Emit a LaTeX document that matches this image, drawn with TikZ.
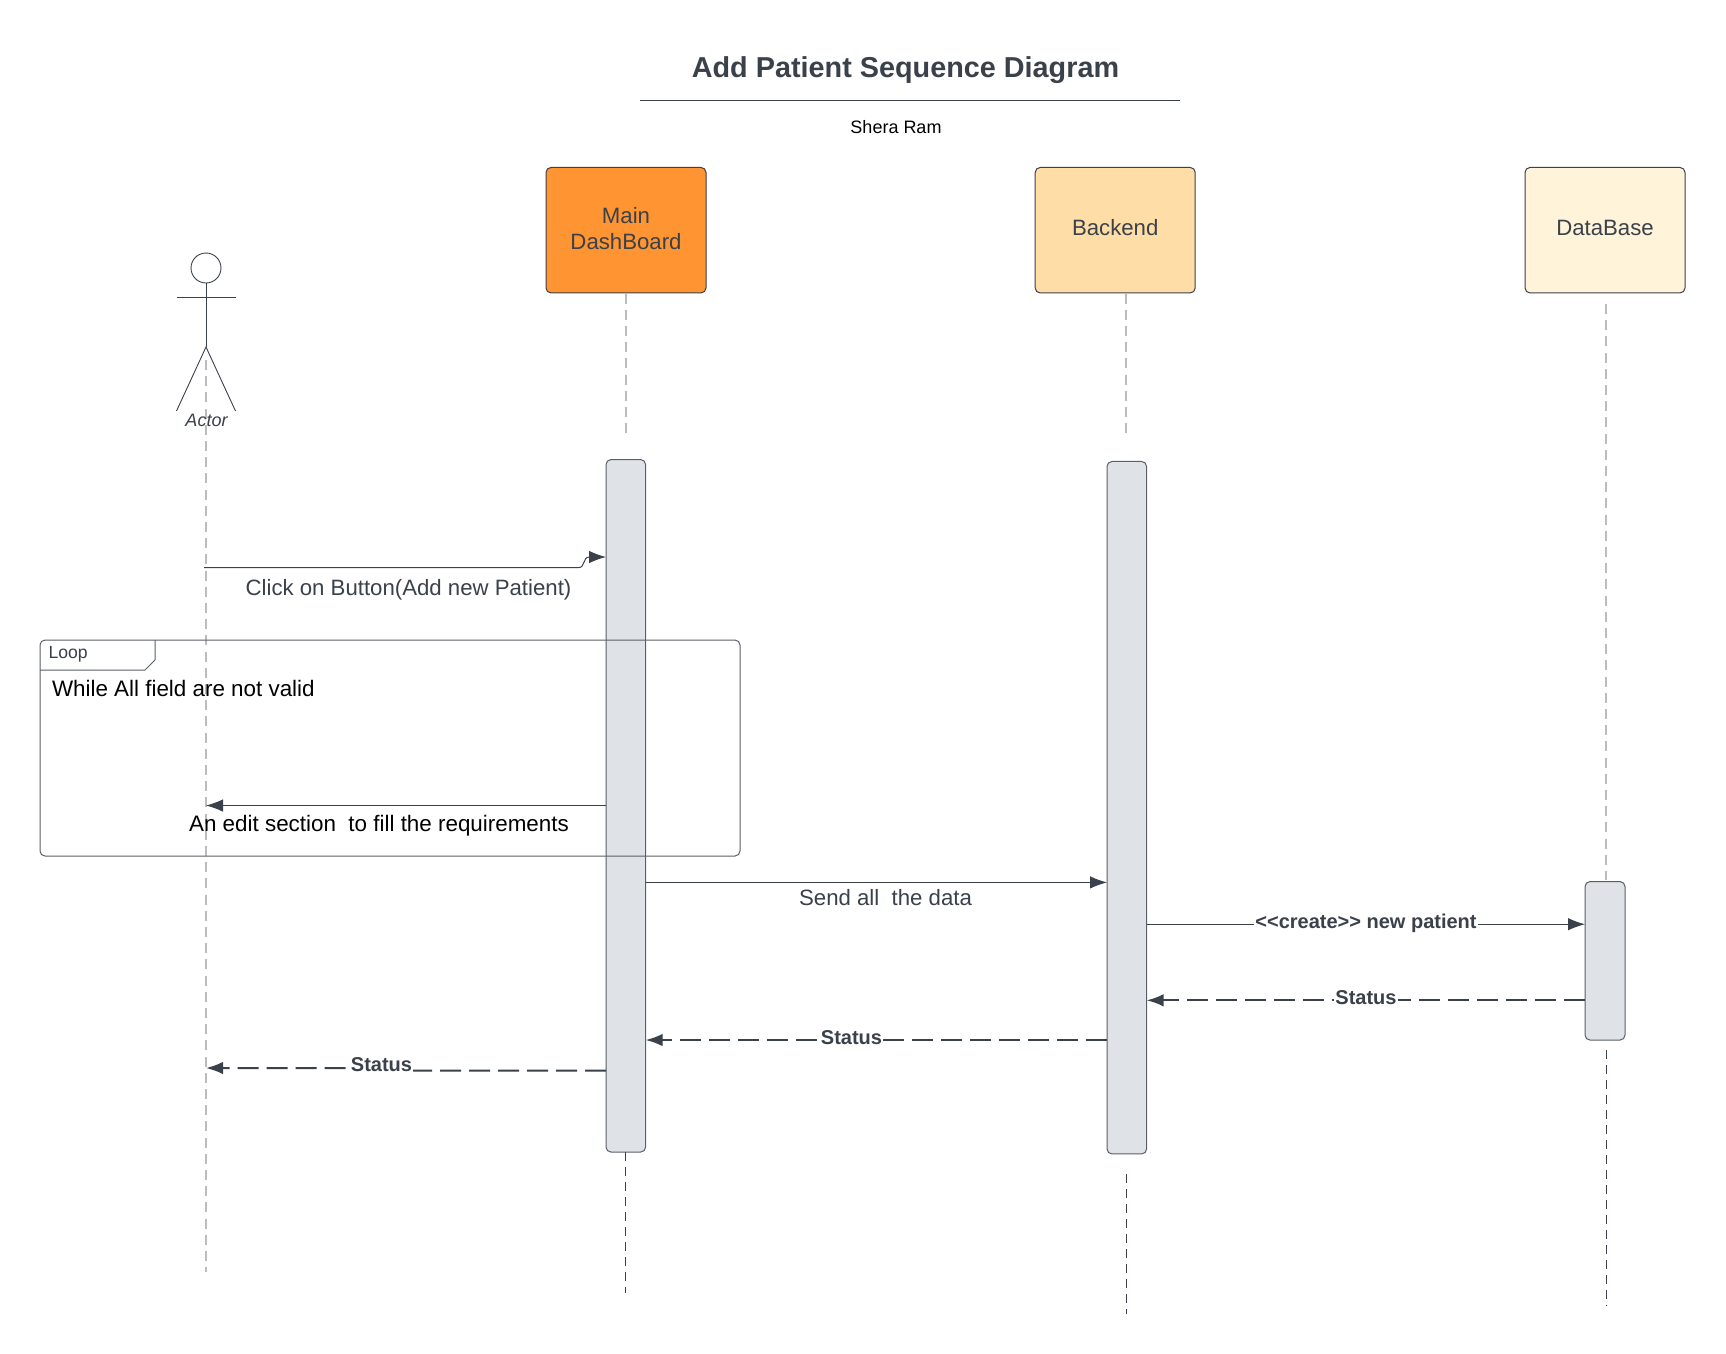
\documentclass[tikz,border=0pt]{standalone}
\usepackage{fontspec}
\setmainfont{Liberation Sans}
\usetikzlibrary{arrows.meta,calc}
\definecolor{ink}{HTML}{3A414A}
\definecolor{edge}{HTML}{5A6068}
\definecolor{lifegrey}{HTML}{BABCC0}
\definecolor{actfill}{HTML}{DFE3E8}
\definecolor{orangebox}{HTML}{FF9432}
\definecolor{peachbox}{HTML}{FFDDA6}
\definecolor{creambox}{HTML}{FFF3D9}
\tikzset{
  x=1pt,y=-1pt,
  base/.style={inner sep=0pt,outer sep=0pt},
  headbox/.style={base,draw=ink,line width=1pt,rounded corners=5pt,minimum width=160pt,minimum height=125.5pt},
  actbox/.style={base,draw=edge,line width=1pt,rounded corners=5pt,fill=actfill,minimum width=39.6pt},
  lifeup/.style={draw=lifegrey,line width=1.2pt,dash pattern=on 10pt off 6.2pt},
  lifedown/.style={draw=ink,line width=0.7pt,dash pattern=on 9pt off 6pt},
  msg/.style={draw=ink,line width=1pt,-{Latex[length=17pt,width=12.5pt]}},
  ret/.style={draw=ink,line width=2pt,dash pattern=on 21pt off 8pt,-{Latex[length=17pt,width=12.5pt]}},
  stick/.style={draw=ink,line width=0.9pt},
  txt/.style={base,text=ink,font=\fontsize{22.2}{26}\selectfont},
  blk/.style={base,text=black,font=\fontsize{22.4}{26}\selectfont},
  boldlab/.style={base,text=ink,fill=white,font=\fontsize{20}{24}\selectfont\bfseries,inner xsep=1pt},
}
\begin{document}
\begin{tikzpicture}
\path[use as bounding box,fill=white] (0,0) rectangle (1726,1353);
% title
\node[base,text=ink,font=\fontsize{28.8}{34}\selectfont\bfseries] (title) at (905.5,70.5) {Add Patient Sequence Diagram};
\coordinate (ruleL) at (640,100.5);
\coordinate (ruleR) at (1180,100.5);
\draw[stick] (ruleL) -- (ruleR);
\node[base,text=black,font=\fontsize{18}{22}\selectfont] (author) at (896,127.5) {Shera Ram};
% heads
\node[headbox,fill=orangebox] (main) at (626,230.2) {};
\node[txt,align=center] (mainlab) at (626,229) {Main\\DashBoard};
\node[headbox,fill=peachbox] (back) at (1115.2,230.2) {};
\node[txt] (backlab) at (1115.2,228) {Backend};
\node[headbox,fill=creambox] (db) at (1605,230.2) {};
\node[txt] (dblab) at (1605,228) {DataBase};
% activations
\node[actbox,minimum height=692.5pt] (mact) at (625.8,805.8) {};
\node[actbox,minimum height=692.5pt] (bact) at (1126.8,807.7) {};
\node[actbox,minimum height=158.5pt,minimum width=40pt] (dact) at (1605,960.8) {};
% lifeline ends
\coordinate (aTop) at (206,360);
\coordinate (aEnd) at (206,1272);
\coordinate (mUpS) at (626,293.5);
\coordinate (mUp) at (626,435);
\coordinate (bUpS) at (1126,293.5);
\coordinate (bUp) at (1126,434);
\coordinate (dUpS) at (1606,304);
\coordinate (dUp) at (1606,880);
\coordinate (mDn) at (625.5,1293);
\coordinate (bDnS) at (1126.6,1174);
\coordinate (bDn) at (1126.6,1314);
\coordinate (dDnS) at (1606.5,1050);
\coordinate (dDn) at (1606.5,1306);
\draw[lifeup] (aTop) -- (aEnd);
\draw[lifeup] (mUpS) -- (mUp);
\draw[lifeup] (bUpS) -- (bUp);
\draw[lifeup] (dUpS) -- (dUp);
\draw[lifedown] (mact.south -| mDn) -- (mDn);
\draw[lifedown] (bDnS) -- (bDn);
\draw[lifedown] (dDnS) -- (dDn);
% actor
\node[base,draw=ink,line width=0.9pt,circle,minimum size=30pt] (head) at (206,268) {};
\coordinate (armL) at (176.5,297.4);
\coordinate (armR) at (235.5,297.4);
\coordinate (hip) at (206,347);
\coordinate (legL) at (176.5,411);
\coordinate (legR) at (235.5,411);
\draw[stick] (head.south) -- (hip);
\draw[stick] (armL) -- (armR);
\draw[stick] (legL) -- (hip) -- (legR);
\node[base,text=ink,font=\fontsize{18}{22}\selectfont\itshape] (actor) at (206.5,420.5) {Actor};
% loop frame
\node[base,draw=edge,line width=1pt,rounded corners=5pt,minimum width=700pt,minimum height=216pt] (loop) at (390,748) {};
\coordinate (tabA) at (40,670);
\coordinate (tabB) at (145,670);
\coordinate (tabC) at (155,660);
\coordinate (tabD) at (155,640);
\draw[draw=edge,line width=1pt] (tabA) -- (tabB) -- (tabC) -- (tabD);
\node[base,text=ink,font=\fontsize{17.6}{21}\selectfont,anchor=west] (looplab) at (48.5,654) {Loop};
\node[blk,anchor=west] (cond) at (52,688) {While All field are not valid};
% messages
\coordinate (a1) at (204,567.7);
\coordinate (m1) at (606,557);
\draw[msg] (a1) -- (578,567.7) .. controls (586,567.7) and (582,557) .. (mact.west |- m1);
\node[txt] (l1) at (408.5,589.5) {Click on Button(Add new Patient)};
\coordinate (y2) at (0,805.5);
\draw[msg] (mact.west |- y2) -- (head.south |- y2);
\node[blk] (l2) at (379,825.5) {An edit section\ \ to fill the requirements};
\coordinate (y3) at (0,882.4);
\draw[msg] (mact.east |- y3) -- (bact.west |- y3);
\node[txt] (l3) at (885.5,897.5) {Send all\ \ the data};
\coordinate (y4) at (0,924.2);
\draw[msg] (bact.east |- y4) -- (dact.west |- y4);
\node[boldlab] (l4) at (1366,923.5) {<{}<create>{}> new patient};
\coordinate (y5) at (0,1000.3);
\draw[ret] (dact.west |- y5) -- (bact.east |- y5);
\node[boldlab] (l5) at (1366,998) {Status};
\coordinate (y6) at (0,1040);
\draw[ret] (bact.west |- y6) -- (mact.east |- y6);
\node[boldlab] (l6) at (851.5,1038) {Status};
\coordinate (y7a) at (0,1070.5);
\coordinate (y7b) at (0,1068);
\draw[ret] (mact.west |- y7a) -- (385,1070.5) -- (380,1068) -- (head.south |- y7b);
\node[boldlab] (l7) at (381.5,1065) {Status};
\end{tikzpicture}
\end{document}
